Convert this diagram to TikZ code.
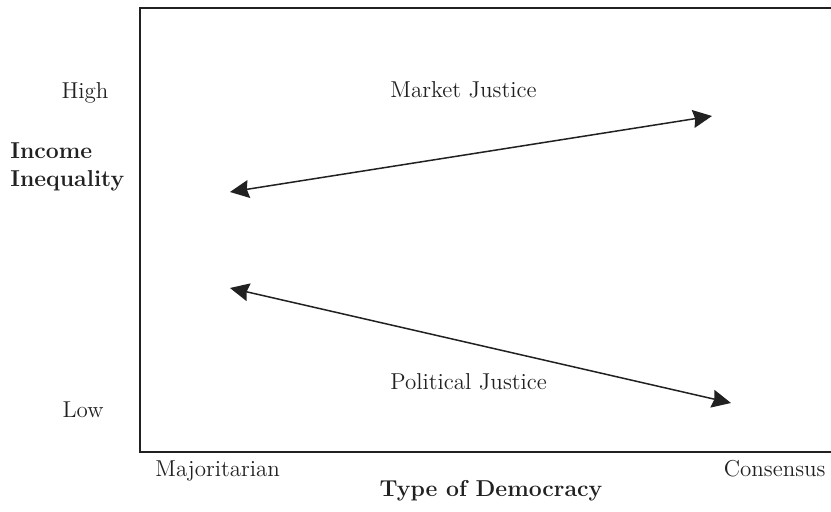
\documentclass[tikz,border=0pt]{standalone}
\usetikzlibrary{arrows.meta}
\definecolor{ink}{gray}{0.13}
\begin{document}
\begin{tikzpicture}[x=0.5pt,y=-0.5pt]
  \tikzset{ lbl/.style={text=ink,inner sep=0pt,font=\fontsize{11.5}{14}\selectfont},
    blbl/.style={lbl,font=\fontsize{11.5}{14}\selectfont\bfseries},
    dbl/.style={draw=ink,line width=0.75pt,{Stealth[length=9.5pt,width=9pt,inset=1pt]}-{Stealth[length=9.5pt,width=9pt,inset=1pt]}},
  }
  \useasboundingbox (0,0) rectangle (831,512);
  % the frame, open to the right
  \draw[ink,line width=1.1pt] (831,8) -- (140,8) -- (140,452) -- (831,452);
  % axis labels
  \node[lbl,anchor=base] (high) at (85,99) {High};
  \node[lbl,anchor=base] (low) at (83,418) {Low};
  \node[blbl,anchor=base west,align=left] (inc) at (10,187) {Income\\Inequality};
  \node[lbl,anchor=base west] (maj) at (155,477) {Majoritarian};
  \node[lbl,anchor=base east] (con) at (826,477) {Consensus};
  \node[blbl,anchor=base] (type) at (491,497) {Type of Democracy};
  % the two justices
  \node[lbl,anchor=base west] (mj) at (390,98) {Market Justice};
  \node[lbl,anchor=base west] (pj) at (390,390) {Political Justice};
  % ends of the arrows
  \coordinate (mL) at (230,192);
  \coordinate (mR) at (712,116);
  \coordinate (pL) at (230,288);
  \coordinate (pR) at (731,403);
  \draw[dbl] (mL) -- (mR);
  \draw[dbl] (pL) -- (pR);
\end{tikzpicture}
\end{document}
